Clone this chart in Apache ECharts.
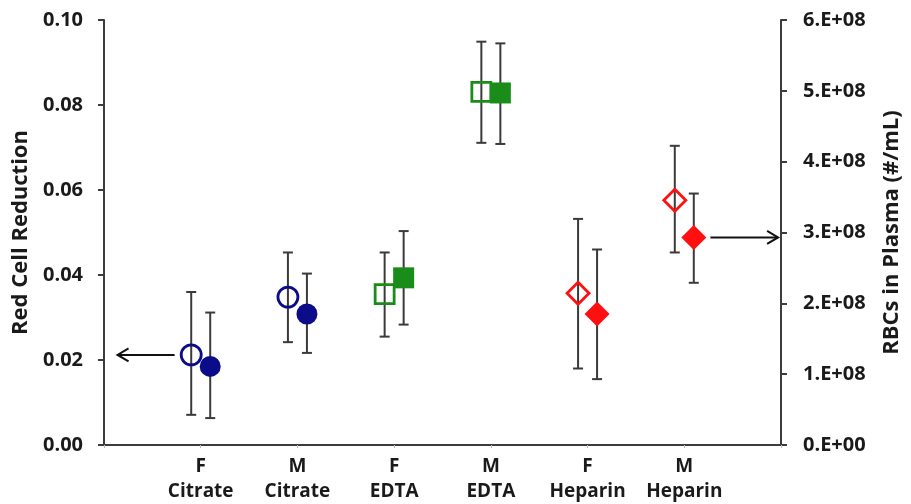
<!DOCTYPE html>
<html>
<head>
<meta charset="utf-8">
<script src="https://cdn.jsdelivr.net/npm/echarts@6/dist/echarts.min.js"></script>
<style>
html,body{margin:0;padding:0;background:#fff;}
#chart{width:911px;height:504px;}
</style>
</head>
<body>
<div id="chart"></div>
<script>
// categories along the x axis (placed at 1..6 on a 0..7 value axis)
const categories = ['F\nCitrate', 'M\nCitrate', 'F\nEDTA', 'M\nEDTA', 'F\nHeparin', 'M\nHeparin'];
const catPos = [1, 2, 3, 4, 5, 6];

// red cell reduction (left axis, open markers)
const reduction     = [0.0212, 0.0348, 0.0355, 0.0831, 0.0357, 0.0576];
const reductionLow  = [0.0071, 0.0242, 0.0255, 0.0711, 0.0180, 0.0453];
const reductionHigh = [0.0360, 0.0453, 0.0453, 0.0949, 0.0532, 0.0704];

// RBCs in plasma (right axis, filled markers)
const rbc     = [1.11e8, 1.85e8, 2.36e8, 4.97e8, 1.85e8, 2.93e8];
const rbcLow  = [0.38e8, 1.30e8, 1.70e8, 4.25e8, 0.93e8, 2.29e8];
const rbcHigh = [1.87e8, 2.42e8, 3.02e8, 5.67e8, 2.76e8, 3.55e8];

// arrows: [x start, value, x end]
const leftArrow  = [[0.73, reduction[0], 0.14]];
const rightArrow = [[6.27, rbc[5], 6.97]];

const colors  = ['#0c0c8a', '#0c0c8a', '#1a8c1a', '#1a8c1a', '#ff0f0f', '#ff0f0f'];
const symbols = ['circle', 'circle', 'rect', 'rect', 'diamond', 'diamond'];
const openSize = { circle: 20, rect: 19, diamond: 22 };
const fillSize = { circle: 21, rect: 21, diamond: 25 };

const OFF = 9.5;
const FONT = 'Open Sans';
const axisColor = '#3c3c3c';
const textColor = '#1a1a1a';

const chart = echarts.init(document.getElementById('chart'));

function errBar(offset) {
    return function (params, api) {
        const x = api.value(0);
        const lo = api.coord([x, api.value(1)]);
        const hi = api.coord([x, api.value(2)]);
        const px = lo[0] + offset;
        const style = { stroke: '#3a3a3a', lineWidth: 2 };
        return {
            type: 'group',
            children: [
                { type: 'line', shape: { x1: px, y1: lo[1], x2: px, y2: hi[1] }, style },
                { type: 'line', shape: { x1: px - 5, y1: lo[1], x2: px + 5, y2: lo[1] }, style },
                { type: 'line', shape: { x1: px - 5, y1: hi[1], x2: px + 5, y2: hi[1] }, style }
            ]
        };
    };
}

function arrow(params, api) {
    const a = api.coord([api.value(0), api.value(1)]);
    const b = api.coord([api.value(2), api.value(1)]);
    const dir = b[0] < a[0] ? 1 : -1;
    const style = { stroke: '#111', lineWidth: 2, fill: null };
    return {
        type: 'group',
        children: [
            { type: 'line', shape: { x1: a[0], y1: a[1], x2: b[0], y2: b[1] }, style },
            { type: 'polyline', shape: { points: [[b[0] + dir * 11, b[1] - 6.5], [b[0], b[1]], [b[0] + dir * 11, b[1] + 6.5]] }, style }
        ]
    };
}

const option = {
    animation: false,
    textStyle: { fontFamily: FONT },
    grid: { left: 104, right: 129, top: 20, bottom: 59 },
    xAxis: {
        type: 'value',
        min: 0,
        max: 7,
        interval: 1,
        splitLine: { show: false },
        axisLine: { onZero: false, lineStyle: { color: axisColor, width: 2 } },
        axisTick: { show: true, length: 3, lineStyle: { color: '#bbb' } },
        axisLabel: {
            margin: 9,
            color: textColor,
            fontFamily: FONT,
            fontWeight: 'bold',
            fontSize: 19,
            lineHeight: 25,
            formatter: v => categories[v - 1] || ''
        }
    },
    yAxis: [
        {
            type: 'value',
            min: 0,
            max: 0.1,
            interval: 0.02,
            name: 'Red Cell Reduction',
            nameLocation: 'middle',
            nameRotate: 90,
            nameGap: 69,
            nameTextStyle: { color: textColor, fontFamily: FONT, fontWeight: 'bold', fontSize: 22 },
            splitLine: { show: false },
            axisLine: { show: true, lineStyle: { color: axisColor, width: 2 } },
            axisTick: { show: true, length: 6, lineStyle: { color: axisColor, width: 2 } },
            axisLabel: {
                margin: 21,
                color: textColor,
                fontFamily: FONT,
                fontWeight: 'bold',
                fontSize: 20,
                formatter: v => v.toFixed(2)
            }
        },
        {
            type: 'value',
            min: 0,
            max: 6e8,
            interval: 1e8,
            position: 'right',
            name: 'RBCs in Plasma (#/mL)',
            nameLocation: 'middle',
            nameRotate: 90,
            nameGap: 100,
            nameTextStyle: { color: textColor, fontFamily: FONT, fontWeight: 'bold', fontSize: 22 },
            splitLine: { show: false },
            axisLine: { show: true, lineStyle: { color: axisColor, width: 2 } },
            axisTick: { show: true, length: 6, lineStyle: { color: axisColor, width: 2 } },
            axisLabel: {
                margin: 22,
                color: textColor,
                fontFamily: FONT,
                fontWeight: 'bold',
                fontSize: 20,
                formatter: v => v === 0 ? '0.E+00' : Math.round(v / 1e8) + '.E+08'
            }
        }
    ],
    series: [
        {
            type: 'custom',
            yAxisIndex: 0,
            renderItem: errBar(-OFF),
            data: catPos.map((x, i) => [x, reductionLow[i], reductionHigh[i]]),
            z: 1
        },
        {
            type: 'scatter',
            yAxisIndex: 0,
            symbolOffset: [-OFF, 0],
            data: catPos.map((x, i) => ({
                value: [x, reduction[i]],
                symbol: symbols[i],
                symbolSize: openSize[symbols[i]],
                itemStyle: { color: 'rgba(255,255,255,0)', borderColor: colors[i], borderWidth: 2.8, opacity: 1 }
            })),
            z: 2
        },
        {
            type: 'custom',
            yAxisIndex: 1,
            renderItem: errBar(OFF),
            data: catPos.map((x, i) => [x, rbcLow[i], rbcHigh[i]]),
            z: 3
        },
        {
            type: 'scatter',
            yAxisIndex: 1,
            symbolOffset: [OFF, 0],
            data: catPos.map((x, i) => ({
                value: [x, rbc[i]],
                symbol: symbols[i],
                symbolSize: fillSize[symbols[i]],
                itemStyle: { color: colors[i], opacity: 1 }
            })),
            z: 4
        },
        {
            type: 'custom',
            yAxisIndex: 0,
            renderItem: arrow,
            data: leftArrow,
            z: 5
        },
        {
            type: 'custom',
            yAxisIndex: 1,
            renderItem: arrow,
            data: rightArrow,
            z: 5
        }
    ]
};

chart.setOption(option);
</script>
</body>
</html>
